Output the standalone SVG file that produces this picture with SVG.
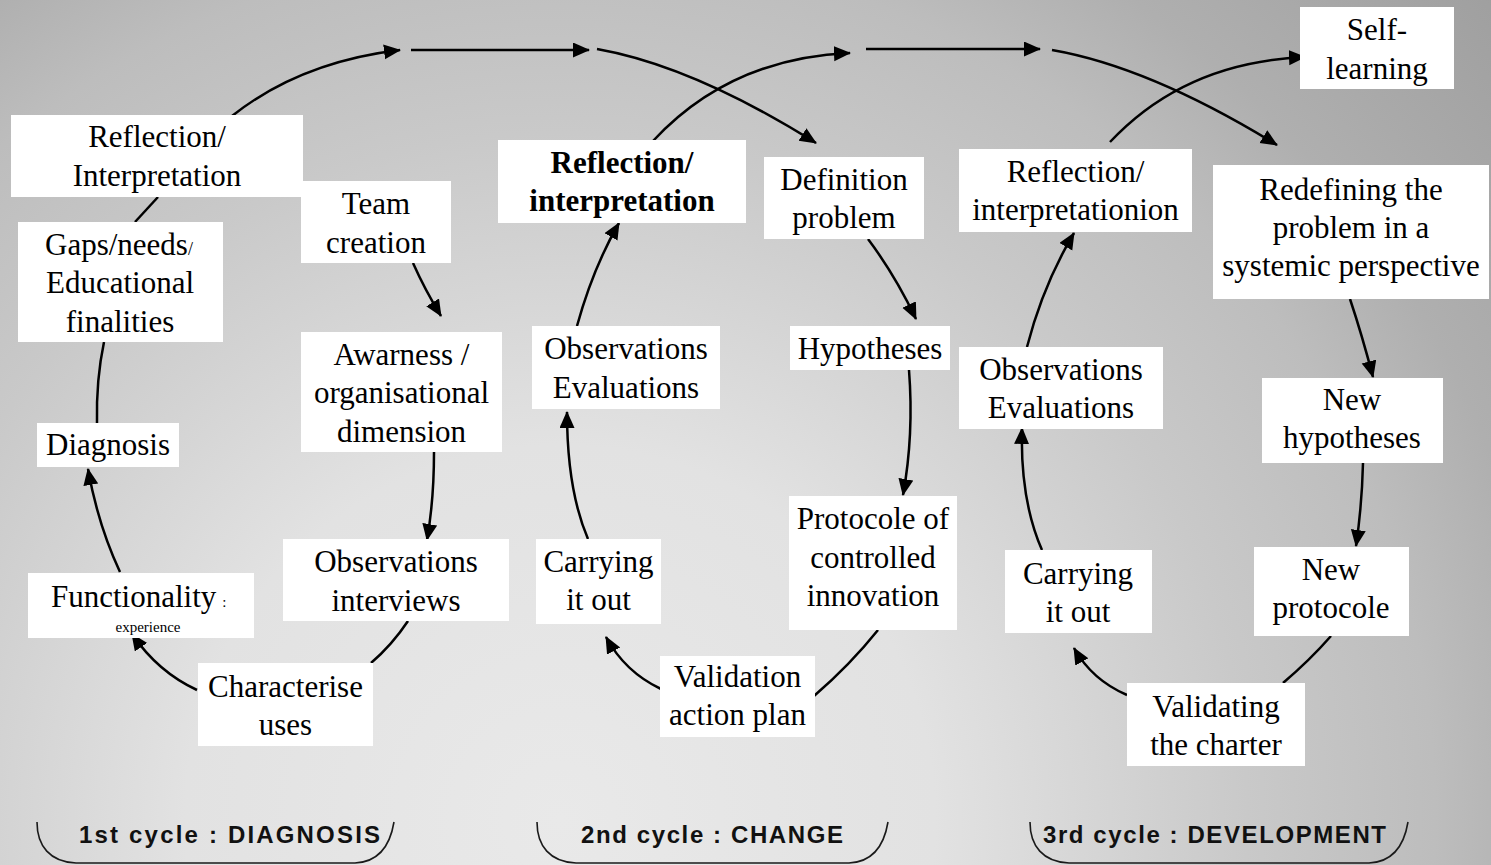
<svg xmlns="http://www.w3.org/2000/svg" width="1491" height="865" viewBox="0 0 1491 865">
<defs>
<radialGradient id="bg" gradientUnits="userSpaceOnUse" cx="560" cy="820" r="1250">
<stop offset="0" stop-color="#e9e9e9"/>
<stop offset="0.3" stop-color="#e2e2e2"/>
<stop offset="0.55" stop-color="#c9c9c9"/>
<stop offset="0.7" stop-color="#bdbdbd"/>
<stop offset="0.8" stop-color="#afafaf"/>
<stop offset="1" stop-color="#9f9f9f"/>
</radialGradient>
<marker id="ah" markerUnits="userSpaceOnUse" markerWidth="18" markerHeight="16" refX="16" refY="7.5" orient="auto">
<path d="M0,0 L17,7.5 L0,15 z" fill="#000"/>
</marker>
<style>
.box{fill:#fff}
.t{font-family:"Liberation Serif","Times New Roman",serif;font-size:31px;fill:#000;text-anchor:middle}
.b{font-weight:bold}
.s{font-size:15px}
.c{fill:none;stroke:#000;stroke-width:2.5}
.a{marker-end:url(#ah)}
.lbl{font-family:"Liberation Sans",Arial,sans-serif;font-size:24px;font-weight:bold;fill:#111}
.br{fill:none;stroke:#1a1a1a;stroke-width:1.6}
</style>
</defs>
<rect width="1491" height="865" fill="url(#bg)"/>

<g id="connectors">
<path class="c a" d="M232,116 Q300,62 400,50"/>
<path class="c a" d="M411,50 L589,50"/>
<path class="c a" d="M597,49 Q693,66 816,143"/>
<path class="c a" d="M653,141 Q730,58 850,53"/>
<path class="c a" d="M866,49 L1040,49"/>
<path class="c a" d="M1052,50 Q1150,67 1277,145"/>
<path class="c a" d="M1110,142 Q1185,62 1305,57"/>
<path class="c" d="M158,197 L135,222"/>
<path class="c" d="M104,342 Q96,380 97,423"/>
<path class="c a" d="M120,572 Q98,525 88,469"/>
<path class="c a" d="M197,690 Q158,672 132,634"/>
<path class="c" d="M408,621 Q392,645 371,663"/>
<path class="c a" d="M434,452 Q434,500 427,540"/>
<path class="c a" d="M413,263 Q425,290 441,316"/>
<path class="c a" d="M661,689 Q625,672 606,637"/>
<path class="c" d="M814,696 Q850,665 878,630"/>
<path class="c a" d="M909,370 Q914,435 903,495"/>
<path class="c a" d="M868,239 Q895,275 916,319"/>
<path class="c a" d="M588,539 Q567,490 567,412"/>
<path class="c a" d="M577,326 Q593,268 619,223"/>
<path class="c a" d="M1127,695 Q1092,680 1074,648"/>
<path class="c" d="M1283,683 Q1310,660 1331,636"/>
<path class="c a" d="M1363,463 Q1362,505 1356,546"/>
<path class="c a" d="M1350,299 Q1362,335 1373,377"/>
<path class="c a" d="M1042,550 Q1020,500 1022,428"/>
<path class="c a" d="M1027,347 Q1043,285 1074,233"/>
</g>

<g id="n-reflection1"><rect class="box" x="11" y="115" width="292" height="82"/><text class="t" x="157" y="147">Reflection/</text><text class="t" x="157" y="186">Interpretation</text></g>
<g id="n-team"><rect class="box" x="301" y="181" width="150" height="82"/><text class="t" x="376" y="214">Team</text><text class="t" x="376" y="253">creation</text></g>
<g id="n-gaps"><rect class="box" x="18" y="222" width="205" height="120"/><text class="t" x="45" y="255" style="text-anchor:start">Gaps/needs<tspan font-size="18">/</tspan></text><text class="t" x="120" y="293">Educational</text><text class="t" x="120" y="332">finalities</text></g>
<g id="n-diagnosis"><rect class="box" x="37" y="423" width="142" height="44"/><text class="t" x="108" y="455">Diagnosis</text></g>
<g id="n-functionality"><rect class="box" x="28" y="573" width="226" height="65"/><text class="t" x="51" y="607" style="text-anchor:start">Functionality<tspan font-size="15" dx="6">:</tspan></text><text class="t s" x="148" y="632">experience</text></g>
<g id="n-characterise"><rect class="box" x="198" y="663" width="175" height="83"/><text class="t" x="285.5" y="697">Characterise</text><text class="t" x="285.5" y="735">uses</text></g>
<g id="n-awarness"><rect class="box" x="301" y="332" width="201" height="120"/><text class="t" x="401.5" y="365">Awarness /</text><text class="t" x="401.5" y="403">organisational</text><text class="t" x="401.5" y="442">dimension</text></g>
<g id="n-obsinterviews"><rect class="box" x="283" y="539" width="226" height="82"/><text class="t" x="396" y="572">Observations</text><text class="t" x="396" y="611">interviews</text></g>

<g id="n-reflection2"><rect class="box" x="498" y="140" width="248" height="83"/><text class="t b" x="622" y="173">Reflection/</text><text class="t b" x="622" y="211">interpretation</text></g>
<g id="n-definition"><rect class="box" x="764" y="157" width="160" height="82"/><text class="t" x="844" y="190">Definition</text><text class="t" x="844" y="228">problem</text></g>
<g id="n-obseval2"><rect class="box" x="532" y="326" width="188" height="83"/><text class="t" x="626" y="359">Observations</text><text class="t" x="626" y="398">Evaluations</text></g>
<g id="n-hypotheses"><rect class="box" x="790" y="326" width="160" height="44"/><text class="t" x="870" y="359">Hypotheses</text></g>
<g id="n-carrying2"><rect class="box" x="536" y="539" width="125" height="85"/><text class="t" x="598.5" y="572">Carrying</text><text class="t" x="598.5" y="610">it out</text></g>
<g id="n-protocole"><rect class="box" x="789" y="496" width="168" height="134"/><text class="t" x="873" y="529">Protocole of</text><text class="t" x="873" y="568">controlled</text><text class="t" x="873" y="606">innovation</text></g>
<g id="n-validation"><rect class="box" x="660" y="656" width="155" height="81"/><text class="t" x="737.5" y="687">Validation</text><text class="t" x="737.5" y="725">action plan</text></g>

<g id="n-reflection3"><rect class="box" x="959" y="149" width="233" height="83"/><text class="t" x="1075.5" y="182">Reflection/</text><text class="t" x="1075.5" y="220">interpretationion</text></g>
<g id="n-redefining"><rect class="box" x="1213" y="165" width="276" height="134"/><text class="t" x="1351" y="200">Redefining the</text><text class="t" x="1351" y="238">problem in a</text><text class="t" x="1351" y="276">systemic perspective</text></g>
<g id="n-obseval3"><rect class="box" x="959" y="347" width="204" height="82"/><text class="t" x="1061" y="380">Observations</text><text class="t" x="1061" y="418">Evaluations</text></g>
<g id="n-newhyp"><rect class="box" x="1262" y="378" width="181" height="85"/><text class="t" x="1352" y="410">New</text><text class="t" x="1352" y="448">hypotheses</text></g>
<g id="n-carrying3"><rect class="box" x="1005" y="550" width="147" height="83"/><text class="t" x="1078" y="584">Carrying</text><text class="t" x="1078" y="622">it out</text></g>
<g id="n-newprot"><rect class="box" x="1254" y="547" width="155" height="89"/><text class="t" x="1331" y="580">New</text><text class="t" x="1331" y="618">protocole</text></g>
<g id="n-validating"><rect class="box" x="1127" y="683" width="178" height="83"/><text class="t" x="1216" y="717">Validating</text><text class="t" x="1216" y="755">the charter</text></g>
<g id="n-selflearning"><rect class="box" x="1300" y="7" width="154" height="82"/><text class="t" x="1377" y="40">Self-</text><text class="t" x="1377" y="79">learning</text></g>

<g id="cycles">
<path class="br" d="M37,822 C37,846 50,862 76,863 L355,863 C378,862 390,846 394,822"/>
<text class="lbl" x="79" y="843" textLength="301" lengthAdjust="spacing">1st cycle : DIAGNOSIS</text>
<path class="br" d="M537,822 C537,846 550,862 576,863 L849,863 C872,862 884,846 888,822"/>
<text class="lbl" x="581" y="843" textLength="262" lengthAdjust="spacing">2nd cycle : CHANGE</text>
<path class="br" d="M1030,822 C1030,846 1043,862 1069,863 L1369,863 C1392,862 1404,846 1408,822"/>
<text class="lbl" x="1043" y="843" textLength="343" lengthAdjust="spacing">3rd cycle : DEVELOPMENT</text>
</g>
</svg>
